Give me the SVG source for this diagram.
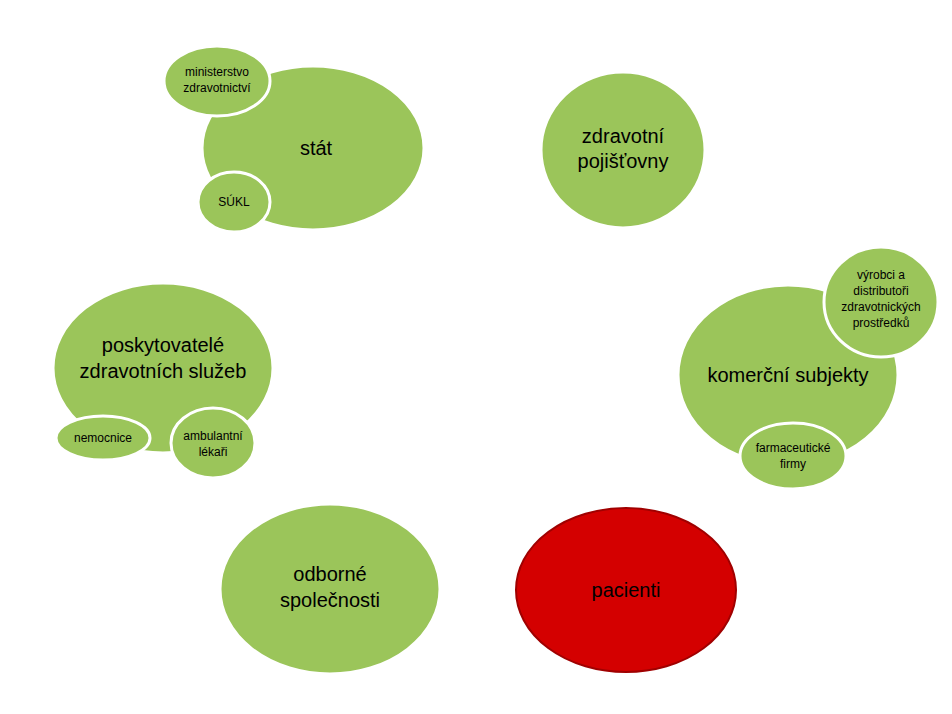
<svg xmlns="http://www.w3.org/2000/svg" width="952" height="714" viewBox="0 0 952 714">
<style>
.g{fill:#9bc55a;stroke:#ffffff;stroke-width:3}
.r{fill:#d40000;stroke:#a00000;stroke-width:2}
text{font-family:"Liberation Sans","Noto Sans",sans-serif;text-anchor:middle;fill:#000}
.b{font-size:20px}
.s{font-size:12px}
</style>
<rect width="952" height="714" fill="#fff"/>
<g id="connectors"></g>
<g id="stat"><ellipse class="g" cx="313" cy="148" rx="111" ry="82"/><text class="b" x="316" y="155">stát</text></g>
<g id="ministerstvo"><ellipse class="g" cx="217" cy="81" rx="53" ry="35"/><text class="s" x="217" y="76">ministerstvo</text><text class="s" x="217" y="92">zdravotnictví</text></g>
<g id="sukl"><ellipse class="g" cx="234" cy="202" rx="36" ry="30"/><text class="s" x="234" y="206">SÚKL</text></g>
<g id="pojistovny"><ellipse class="g" cx="623" cy="150" rx="82" ry="78"/><text class="b" x="623" y="143">zdravotní</text><text class="b" x="623" y="168">pojišťovny</text></g>
<g id="poskytovatele"><ellipse class="g" cx="163" cy="368" rx="110" ry="85"/><text class="b" x="163" y="352">poskytovatelé</text><text class="b" x="163" y="378">zdravotních služeb</text></g>
<g id="nemocnice"><ellipse class="g" cx="103" cy="438" rx="47" ry="22"/><text class="s" x="103" y="442">nemocnice</text></g>
<g id="ambulantni"><ellipse class="g" cx="213" cy="443" rx="42" ry="35"/><text class="s" x="213" y="440">ambulantní</text><text class="s" x="213" y="456">lékaři</text></g>
<g id="komercni"><ellipse class="g" cx="788" cy="375" rx="110" ry="90"/><text class="b" x="788" y="382">komerční subjekty</text></g>
<g id="vyrobci"><ellipse class="g" cx="881" cy="302" rx="57" ry="55"/><text class="s" x="881" y="279">výrobci a</text><text class="s" x="881" y="295">distributoři</text><text class="s" x="881" y="311">zdravotnických</text><text class="s" x="881" y="327">prostředků</text></g>
<g id="farmaceuticke"><ellipse class="g" cx="793" cy="456" rx="53" ry="33"/><text class="s" x="793" y="452">farmaceutické</text><text class="s" x="793" y="468">firmy</text></g>
<g id="odborne"><ellipse class="g" cx="330" cy="589" rx="110" ry="85"/><text class="b" x="330" y="581">odborné</text><text class="b" x="330" y="607">společnosti</text></g>
<g id="pacienti"><ellipse class="r" cx="626" cy="590" rx="110" ry="82"/><text class="b" x="626" y="597">pacienti</text></g>
</svg>
